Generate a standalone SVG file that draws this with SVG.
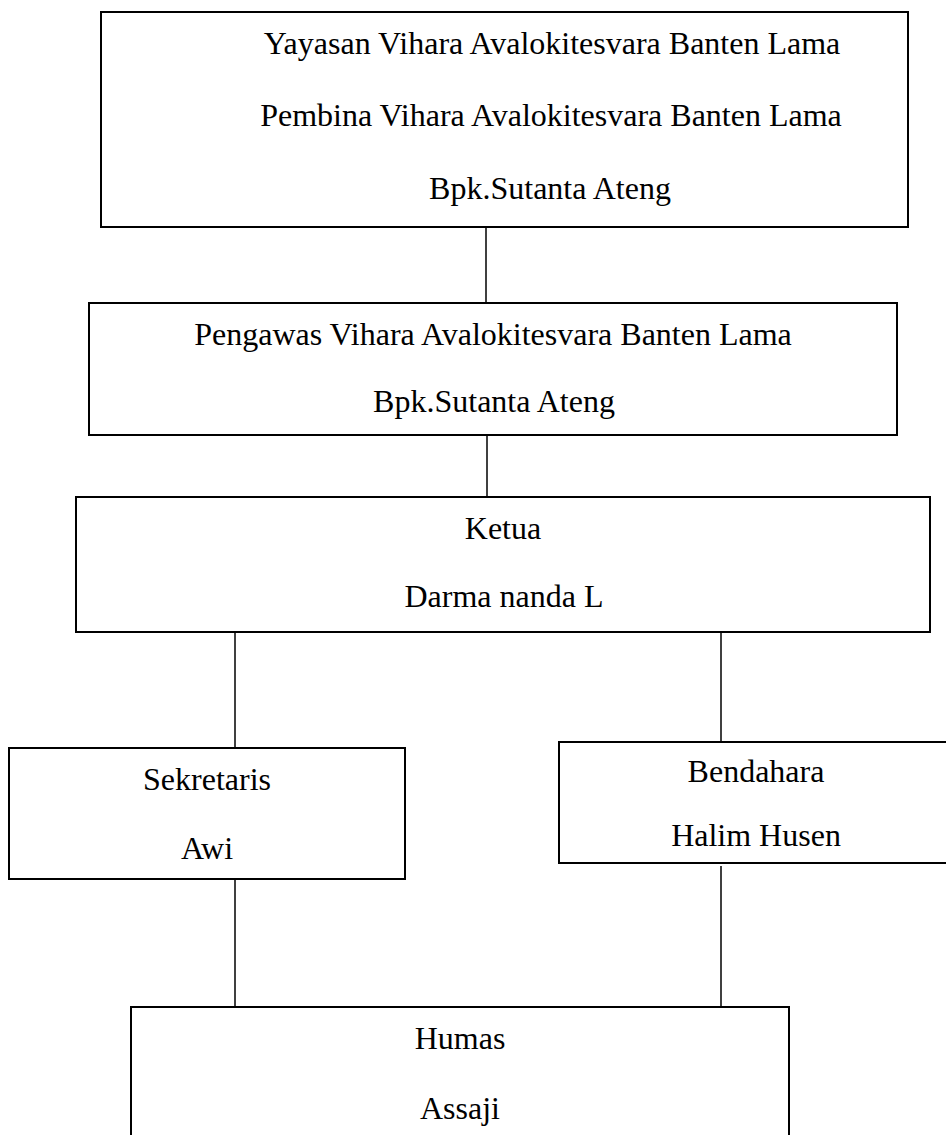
<svg xmlns="http://www.w3.org/2000/svg" width="946" height="1135" viewBox="0 0 946 1135">
  <style>
    .box { fill: #ffffff; stroke: #000000; stroke-width: 2; }
    .lbl { font-family: "Liberation Serif", "Times New Roman", serif; font-size: 32px; fill: #000000; text-anchor: middle; }
    .conn { stroke: #000000; stroke-width: 1.5; fill: none; }
  </style>
  <rect x="0" y="0" width="946" height="1135" fill="#ffffff"/>
  <g id="connectors">
    <line class="conn" x1="486" y1="227" x2="486" y2="303"/>
    <line class="conn" x1="487" y1="435" x2="487" y2="497"/>
    <line class="conn" x1="235" y1="632" x2="235" y2="748"/>
    <line class="conn" x1="721" y1="632" x2="721" y2="742"/>
    <line class="conn" x1="235" y1="877" x2="235" y2="1007"/>
    <line class="conn" x1="721" y1="866" x2="721" y2="1007"/>
  </g>
  <g id="node-yayasan">
    <rect class="box" x="101" y="12" width="807" height="215"/>
    <text class="lbl" x="552" y="54">Yayasan Vihara Avalokitesvara Banten Lama</text>
    <text class="lbl" x="551" y="126">Pembina Vihara Avalokitesvara Banten Lama</text>
    <text class="lbl" x="550" y="199">Bpk.Sutanta Ateng</text>
  </g>
  <g id="node-pengawas">
    <rect class="box" x="89" y="303" width="808" height="132"/>
    <text class="lbl" x="493" y="345">Pengawas Vihara Avalokitesvara Banten Lama</text>
    <text class="lbl" x="494" y="412">Bpk.Sutanta Ateng</text>
  </g>
  <g id="node-ketua">
    <rect class="box" x="76" y="497" width="854" height="135"/>
    <text class="lbl" x="503" y="539">Ketua</text>
    <text class="lbl" x="504" y="607">Darma nanda L</text>
  </g>
  <g id="node-sekretaris">
    <rect class="box" x="9" y="748" width="396" height="131"/>
    <text class="lbl" x="207" y="790">Sekretaris</text>
    <text class="lbl" x="207" y="859">Awi</text>
  </g>
  <g id="node-bendahara">
    <rect class="box" x="559" y="742" width="394" height="121"/>
    <text class="lbl" x="756" y="782">Bendahara</text>
    <text class="lbl" x="756" y="846">Halim Husen</text>
  </g>
  <g id="node-humas">
    <rect class="box" x="131" y="1007" width="658" height="140"/>
    <text class="lbl" x="460" y="1049">Humas</text>
    <text class="lbl" x="460" y="1119">Assaji</text>
  </g>
</svg>
